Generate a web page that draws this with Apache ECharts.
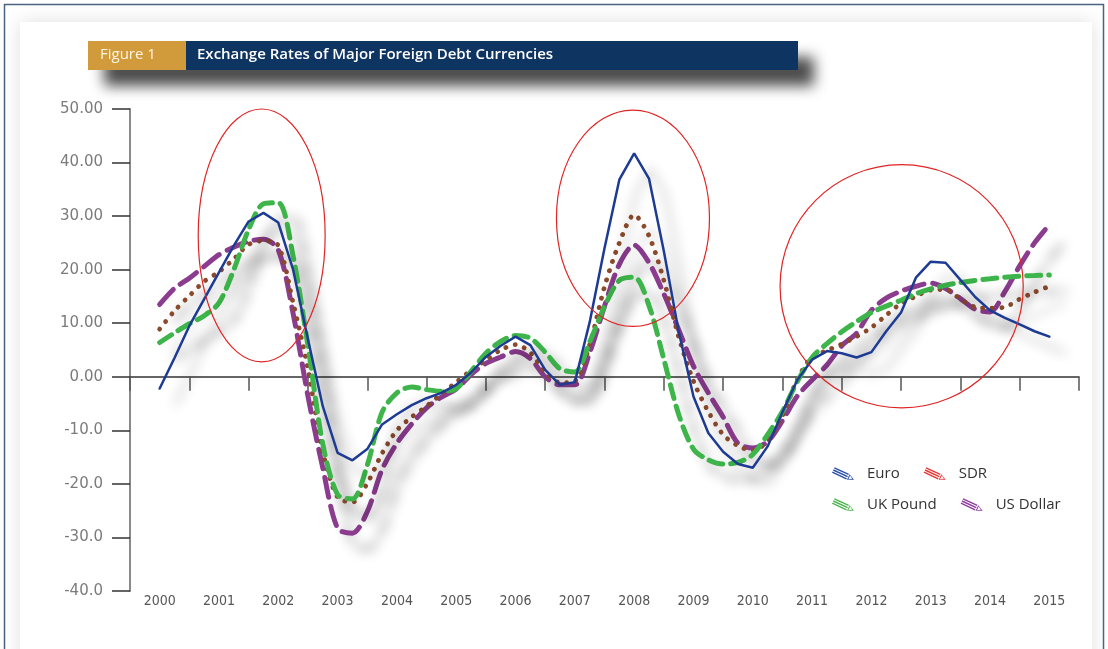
<!DOCTYPE html>
<html>
<head>
<meta charset="utf-8">
<script src="https://cdn.jsdelivr.net/npm/echarts@6/dist/echarts.min.js"></script>
<style>
html, body { margin: 0; padding: 0; background: #fff; }
#chart { width: 1108px; height: 649px; }
</style>
</head>
<body>
<div id="chart"></div>
<script>
const years = ['2000', '2001', '2002', '2003', '2004', '2005', '2006', '2007',
    '2008', '2009', '2010', '2011', '2012', '2013', '2014', '2015'];

// quarterly positions, 2000.00 .. 2015.00
const quarters = Array.from({ length: 61 }, (_, i) => 2000 + i * 0.25);

const euro = [
    -2.2, 3.5, 9.5, 14.5, 19.5, 24.5, 29.0, 30.6,
    28.8, 20.0, 7.0, -5.5, -14.2, -15.6, -13.5, -8.9,
    -7.0, -5.3, -4.0, -3.0, -1.5, 0.8, 3.7, 5.8,
    7.5, 5.9, 1.3, -1.5, -1.0, 10.2, 24.0, 36.8,
    41.7, 37.0, 23.5, 8.5, -3.7, -10.5, -14.0, -16.3,
    -17.0, -13.0, -6.6, -0.6, 3.2, 4.8, 4.4, 3.6,
    4.6, 8.5, 12.0, 18.5, 21.5, 21.3, 18.1, 14.9,
    12.4, 11.0, 9.8, 8.5, 7.5
];
const sdr = [
    8.9, 12.3, 15.1, 17.8, 19.6, 22.0, 24.7, 25.4,
    24.5, 13.8, 1.5, -14.0, -22.5, -23.4, -19.9, -14.3,
    -10.0, -7.5, -5.5, -3.2, -1.0, 1.2, 3.1, 5.0,
    6.0, 4.5, 0.8, -1.1, -0.8, 6.0, 16.8, 25.0,
    30.2, 26.3, 18.0, 7.5, -0.8, -6.5, -10.8, -12.9,
    -13.75, -12.0, -7.3, -0.5, 3.7, 4.9, 6.1, 7.5,
    9.2, 11.5, 13.7, 15.0, 16.2, 16.3, 14.5, 13.0,
    12.8, 13.0, 14.5, 15.8, 16.9
];
const ukPound = [
    6.4, 8.2, 9.9, 11.4, 13.8, 20.0, 27.5, 32.3,
    32.5, 22.5, 5.8, -12.5, -22.0, -22.8, -16.5, -6.6,
    -3.0, -1.9, -2.4, -2.7, -2.2, 1.0, 4.4, 6.6,
    7.7, 7.2, 4.6, 1.5, 0.9, 6.5, 13.1, 18.0,
    18.6, 13.3, 3.3, -7.0, -13.5, -15.5, -16.3, -16.0,
    -14.5, -10.8, -6.5, -0.9, 3.6, 6.2, 8.4, 10.3,
    12.0, 13.2, 14.3, 15.5, 16.4, 17.1, 17.6, 18.0,
    18.3, 18.6, 18.8, 18.9, 19.0
];
const usDollar = [
    13.5, 16.5, 18.4, 20.6, 22.8, 24.2, 25.3, 25.7,
    23.7, 11.8, -3.6, -17.0, -28.3, -29.2, -25.2, -17.3,
    -12.4, -8.8, -5.8, -3.8, -2.3, 0.4, 2.5, 3.7,
    4.7, 3.4, 0.0, -1.5, -1.5, 4.5, 13.2, 21.0,
    24.6, 21.3, 15.5, 8.8, 2.0, -3.0, -7.5, -12.4,
    -13.3, -12.1, -8.2, -3.6, -0.6, 2.2, 5.8, 8.15,
    12.4, 14.7, 16.0, 16.9, 17.5, 16.5, 14.6, 12.6,
    12.1, 15.9, 20.7, 25.0, 28.4
];

const yTickLabels = {
    '50': '50.00', '40': '40.00', '30': '30.00', '20': '20.00', '10': '10.00',
    '0': '0.00', '-10': '-10.0', '-20': '-20.0', '-30': '-30.0', '-40': '-40.0'
};

// red circled periods: centre (year, value) and radii (years, value units)
const highlightX = [2001.72, 2007.98, 2012.51];
const highlightY = [26.4, 29.6, 16.9];
const highlightRx = [1.07, 1.29, 2.05];
const highlightRy = [23.6, 20.2, 22.7];

const pencil = 'path://M3.69 0.38L21.81 8.84L21.05 10.47L2.93 2.01Z' +
    'M2.38 3.18L20.5 11.64L19.74 13.28L1.62 4.82Z' +
    'M1.07 5.99L19.19 14.45L18.43 16.08L0.31 7.62Z' +
    'M22.72 9.26L28.27 16.27L19.34 16.5Z' +
    'M23.3 11.07L21.1 15.79L26.01 15.21Z';

const shadow = {
    shadowBlur: 12,
    shadowColor: 'rgba(0,0,0,0.3)',
    shadowOffsetX: 16,
    shadowOffsetY: 16
};

const makeSeries = (name, values, color, width, dash, smooth) => ({
    name: name,
    type: 'line',
    xAxisIndex: 2,
    yAxisIndex: 0,
    symbol: 'none',
    smooth: smooth,
    z: 3,
    data: quarters.map((q, i) => [q, values[i]]),
    itemStyle: { color: color },
    lineStyle: Object.assign({
        color: color,
        width: width,
        type: dash,
        cap: 'round'
    }, shadow),
    emphasis: { disabled: true }
});

const legendBase = {
    left: 827,
    orient: 'horizontal',
    itemGap: 24,
    itemWidth: 22,
    itemHeight: 13,
    icon: pencil,
    selectedMode: false,
    itemStyle: { borderWidth: 0 },
    textStyle: {
        fontFamily: 'Open Sans',
        fontSize: 15,
        color: '#333',
        padding: [0, 0, 0, 8]
    }
};

const chart = echarts.init(document.getElementById('chart'), null, { renderer: 'canvas' });

const option = {
    animation: false,
    backgroundColor: '#fff',
    grid: { left: 130, right: 29, top: 109, bottom: 58 },
    legend: [
        Object.assign({}, legendBase, {
            top: 461,
            data: [
                { name: 'Euro', itemStyle: { color: '#2b4ea6' } },
                { name: 'SDR', itemStyle: { color: '#e53935' } }
            ]
        }),
        Object.assign({}, legendBase, {
            top: 492,
            data: [
                { name: 'UK Pound', itemStyle: { color: '#4cb450' } },
                { name: 'US Dollar', itemStyle: { color: '#8e3d9e' } }
            ]
        })
    ],
    xAxis: [
        {
            type: 'category',
            data: years,
            boundaryGap: true,
            axisLine: { onZero: true, lineStyle: { color: '#333', width: 1.5 } },
            axisTick: { show: true, length: 14, lineStyle: { color: '#555', width: 1.5 } },
            axisLabel: { show: false },
            splitLine: { show: false }
        },
        {
            type: 'category',
            data: years,
            position: 'bottom',
            boundaryGap: true,
            axisLine: { show: false, onZero: false },
            axisTick: { show: false },
            axisLabel: {
                margin: 3,
                fontFamily: '"DejaVu Sans Condensed", "Roboto Condensed", "Liberation Sans Narrow", Roboto, sans-serif',
                fontSize: 14,
                color: '#555'
            },
            splitLine: { show: false }
        },
        {
            type: 'value',
            min: 1999.5,
            max: 2015.5,
            show: false
        }
    ],
    yAxis: {
        type: 'value',
        min: -40,
        max: 50,
        interval: 10,
        axisLine: { show: true, lineStyle: { color: '#8a8a8a', width: 2 } },
        axisTick: { show: true, length: 18, lineStyle: { color: '#333', width: 1.5 } },
        axisLabel: {
            margin: 27,
            fontFamily: 'DejaVu Sans',
            fontSize: 15,
            color: '#7b7b7b',
            formatter: v => yTickLabels[String(v)]
        },
        splitLine: { show: false }
    },
    series: [
        makeSeries('US Dollar', usDollar, '#8b3c8f', 5, [20, 9], 0.3),
        makeSeries('SDR', sdr, '#8c4a2c', 4.8, [0.1, 9.5], 0.3),
        makeSeries('UK Pound', ukPound, '#3db54a', 5, [14, 8], 0.3),
        makeSeries('Euro', euro, '#1e3b93', 2.5, 'solid', false)
    ]
};

chart.setOption(option);

// frame, header bar and the red ellipses
const ellipses = highlightX.map((x, i) => {
    const c = chart.convertToPixel({ seriesIndex: 0 }, [x, highlightY[i]]);
    const e = chart.convertToPixel({ seriesIndex: 0 }, [x + highlightRx[i], highlightY[i] + highlightRy[i]]);
    return {
        type: 'ellipse',
        z: 10,
        silent: true,
        shape: { cx: c[0], cy: c[1], rx: e[0] - c[0], ry: c[1] - e[1] },
        style: { fill: null, stroke: '#e02424', lineWidth: 1.2 }
    };
});

chart.setOption({
    graphic: [
        {
            type: 'rect', z: -10, silent: true,
            shape: { x: 20, y: 22, width: 1072, height: 700 },
            style: { fill: '#fff', shadowBlur: 18, shadowColor: 'rgba(0,0,0,0.13)' }
        },
        {
            type: 'rect', z: -9, silent: true,
            shape: { x: 4.5, y: 4.5, width: 1099, height: 700 },
            style: { fill: null, stroke: '#4a6480', lineWidth: 1.5 }
        },
        {
            type: 'rect', z: 1, silent: true,
            shape: { x: 88, y: 41, width: 710, height: 29 },
            style: {
                fill: '#0e3461',
                shadowBlur: 14,
                shadowOffsetX: 16,
                shadowOffsetY: 16,
                shadowColor: 'rgba(0,0,0,0.7)'
            }
        },
        {
            type: 'rect', z: 2, silent: true,
            shape: { x: 88, y: 41, width: 98, height: 29 },
            style: { fill: '#d19b3c' }
        },
        {
            type: 'text', z: 3, silent: true,
            left: 100, top: 47,
            style: {
                text: 'Figure 1',
                fill: '#fff5e0',
                font: '15px "Open Sans"'
            }
        },
        {
            type: 'text', z: 3, silent: true,
            left: 197, top: 47,
            style: {
                text: 'Exchange Rates of Major Foreign Debt Currencies',
                fill: '#ffffff',
                font: '600 15px "Open Sans"'
            }
        }
    ].concat(ellipses)
});
</script>
</body>
</html>
